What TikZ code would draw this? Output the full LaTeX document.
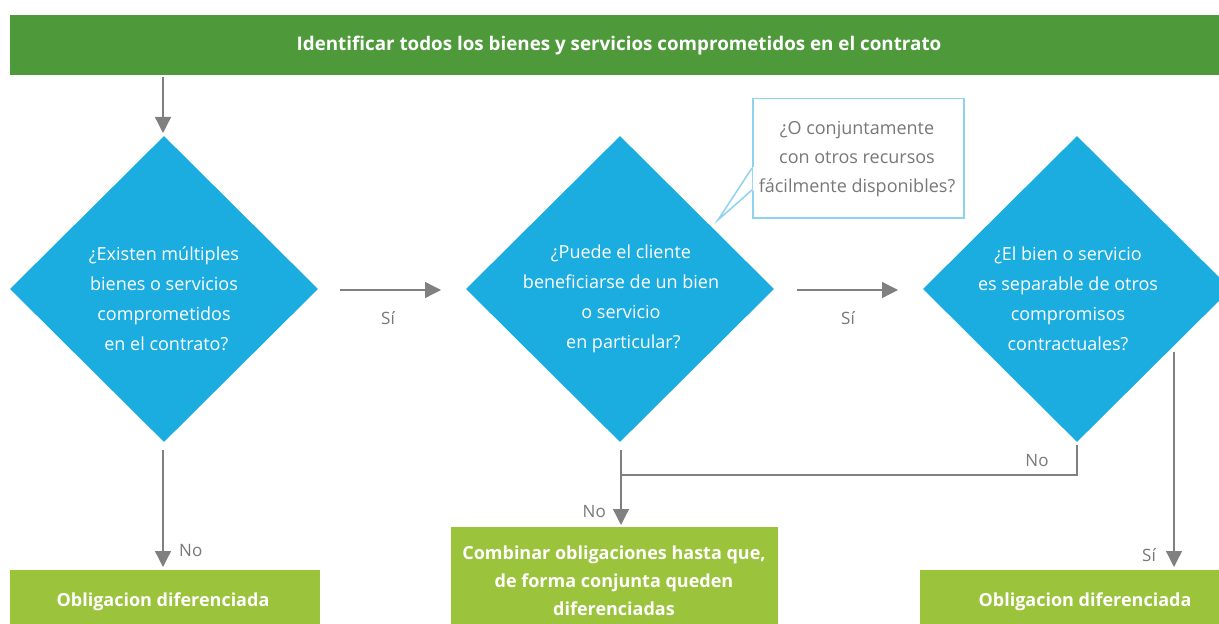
\documentclass[tikz,border=0pt]{standalone}
\usepackage{fontspec}
\setmainfont{Open Sans}
\usetikzlibrary{shapes.geometric,arrows.meta}
\definecolor{topgreen}{RGB}{78,154,58}
\definecolor{boxgreen}{RGB}{155,195,60}
\definecolor{dblue}{RGB}{27,173,224}
\definecolor{bubbleline}{RGB}{142,211,238}
\definecolor{linegray}{RGB}{128,128,128}
\definecolor{labgray}{RGB}{120,120,120}
\begin{document}
\begin{tikzpicture}[x=1bp,y=-1bp,
  dec/.style={diamond, fill=dblue, draw=none, minimum width=308bp, minimum height=306bp, inner sep=0pt},
  dectext/.style={text=white, inner sep=0pt, align=center, font=\fontsize{18bp}{30bp}\selectfont},
  res/.style={fill=boxgreen, draw=none, text=white, inner sep=0pt, align=center, font=\bfseries\fontsize{18bp}{28bp}\selectfont},
  conn/.style={draw=linegray, line width=1.3bp},
  arr/.style={conn, -{Triangle[length=16bp,width=16bp]}},
  lab/.style={text=labgray, font=\fontsize{17bp}{18bp}\selectfont, inner sep=0pt},
]
\useasboundingbox (0,0) rectangle (1219,624);
\fill[white] (0,0) rectangle (1219,624);
% top bar
\node[fill=topgreen, minimum width=1220bp, minimum height=60bp, inner sep=0pt, anchor=north west] (top) at (10,15) {};
\node[text=white, font=\bfseries\fontsize{18.8bp}{20bp}\selectfont, inner sep=0pt] (toptext) at (619,46) {Identificar todos los bienes y servicios comprometidos en el contrato};
% diamonds
\node[dec] (d1) at (164,289) {};
\node[dectext] (d1t) at (164,299) {¿Existen múltiples\\bienes o servicios\\comprometidos\\\ en el contrato?};
\node[dec] (d2) at (620,289) {};
\node[dectext] (d2t) at (621,299) {¿Puede el cliente\\beneficiarse de un bien\\o servicio\\\ en particular?};
\node[dec] (d3) at (1077,289) {};
\node[dectext] (d3t) at (1068,299) {¿El bien o servicio\\es separable de otros\\compromisos\\contractuales?};
% bubble
\node[draw=bubbleline, line width=1.5bp, fill=white, minimum width=211bp, minimum height=119bp, inner sep=0pt, anchor=north west] (bub) at (752,98) {};
\node[text=labgray, align=center, font=\fontsize{18bp}{29bp}\selectfont, inner sep=0pt] (bubtext) at (857,159) {¿O conjuntamente\\con otros recursos\\fácilmente disponibles?};
\coordinate (tip) at (718,220);
\draw[draw=bubbleline, line width=1.5bp, fill=white] (752,168) -- (tip) -- (752,190);
\fill[white] (753,167) rectangle (755,191);
% result boxes
\node[res, minimum width=310bp, minimum height=60bp, anchor=north west] (r1) at (10,570) {};
\node[res] (r1t) at (163,602) {Obligacion diferenciada};
\node[res, minimum width=327bp, minimum height=100bp, anchor=north west] (r2) at (451,527) {};
\node[res] (r2t) at (614,581) {Combinar obligaciones hasta que,\\de forma conjunta queden\\diferenciadas};
\node[res, minimum width=310bp, minimum height=60bp, anchor=north west] (r3) at (920,570) {};
\node[res] (r3t) at (1085,602) {Obligacion diferenciada};
% connectors
\coordinate (a0) at (163,77);
\draw[arr] (a0) -- (163,133);
\coordinate (s1a) at (340,290);
\coordinate (s1b) at (441,290);
\draw[arr] (s1a) -- (s1b);
\node[lab] (sl1) at (388,318) {Sí};
\coordinate (s2a) at (797,290);
\coordinate (s2b) at (898,290);
\draw[arr] (s2a) -- (s2b);
\node[lab] (sl2) at (848,318) {Sí};
\coordinate (n1a) at (163,450);
\draw[arr] (n1a) -- (163,567);
\node[lab, anchor=west] (nl1) at (179,551) {No};
\coordinate (n2a) at (621,450);
\coordinate (n2b) at (621,475);
\draw[arr] (n2a) -- (621,525);
\node[lab, anchor=east] (nl2) at (606,512) {No};
\coordinate (n3a) at (1077,445);
\draw[conn] (n3a) -- (1077,475) -- (n2b);
\node[lab] (nl3) at (1037,461) {No};
\coordinate (y3a) at (1174,352);
\draw[arr] (y3a) -- (1174,567);
\node[lab, anchor=east] (yl3) at (1156,555) {Sí};
\end{tikzpicture}
\end{document}
